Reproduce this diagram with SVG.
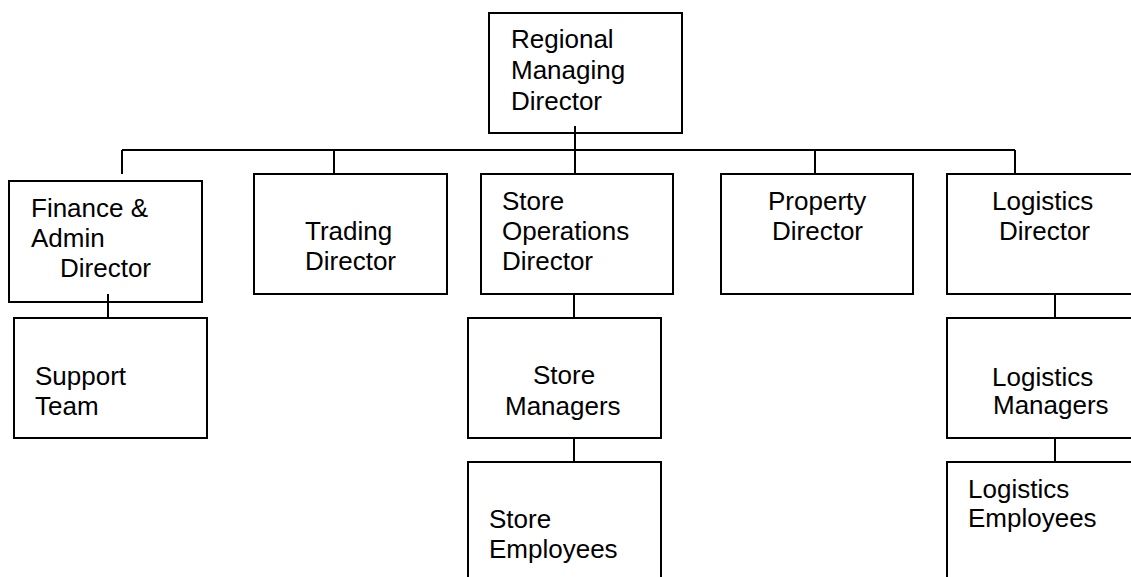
<svg xmlns="http://www.w3.org/2000/svg" width="1131" height="577" viewBox="0 0 1131 577">
<style>
rect.box{fill:#fff;stroke:#000;stroke-width:2}
.conn line{stroke:#000;stroke-width:2}
text{font-family:"Liberation Sans",Arial,sans-serif;font-size:26px;fill:#000}
</style>
<rect width="1131" height="577" fill="#fff"/>
<g id="regional-md">
<rect class="box" x="489" y="13" width="193" height="120"/>
<text x="511" y="48">Regional</text>
<text x="511" y="79">Managing</text>
<text x="511" y="110">Director</text>
</g>
<g id="finance">
<rect class="box" x="9" y="181" width="193" height="121"/>
<text x="31" y="217">Finance &amp;</text>
<text x="31" y="247">Admin</text>
<text x="60" y="277">Director</text>
</g>
<g id="support">
<rect class="box" x="14" y="318" width="193" height="120"/>
<text x="35" y="385">Support</text>
<text x="35" y="415">Team</text>
</g>
<g id="trading">
<rect class="box" x="254" y="174" width="193" height="120"/>
<text x="305" y="240">Trading</text>
<text x="305" y="270">Director</text>
</g>
<g id="store-ops">
<rect class="box" x="481" y="174" width="192" height="120"/>
<text x="502" y="210">Store</text>
<text x="502" y="240">Operations</text>
<text x="502" y="270">Director</text>
</g>
<g id="store-managers">
<rect class="box" x="468" y="318" width="193" height="120"/>
<text x="533" y="384">Store</text>
<text x="505" y="415">Managers</text>
</g>
<g id="store-employees">
<rect class="box" x="468" y="462" width="193" height="130"/>
<text x="489" y="528">Store</text>
<text x="489" y="558">Employees</text>
</g>
<g id="property">
<rect class="box" x="721" y="174" width="192" height="120"/>
<text x="768" y="210">Property</text>
<text x="772" y="240">Director</text>
</g>
<g id="logistics-director">
<rect class="box" x="947" y="174" width="200" height="120"/>
<text x="992" y="210">Logistics</text>
<text x="999" y="240">Director</text>
</g>
<g id="logistics-managers">
<rect class="box" x="947" y="318" width="200" height="120"/>
<text x="992" y="386">Logistics</text>
<text x="993" y="414">Managers</text>
</g>
<g id="logistics-employees">
<rect class="box" x="947" y="462" width="200" height="130"/>
<text x="968" y="498">Logistics</text>
<text x="968" y="527">Employees</text>
</g>
<g id="connectors" class="conn">
<line x1="122" y1="150" x2="1015" y2="150"/>
<line x1="575" y1="126" x2="575" y2="174"/>
<line x1="122" y1="150" x2="122" y2="174"/>
<line x1="334" y1="150" x2="334" y2="174"/>
<line x1="815" y1="150" x2="815" y2="174"/>
<line x1="1015" y1="150" x2="1015" y2="174"/>
<line x1="108" y1="294" x2="108" y2="318"/>
<line x1="574" y1="294" x2="574" y2="318"/>
<line x1="574" y1="438" x2="574" y2="462"/>
<line x1="1055" y1="294" x2="1055" y2="318"/>
<line x1="1055" y1="438" x2="1055" y2="462"/>
</g>
</svg>
